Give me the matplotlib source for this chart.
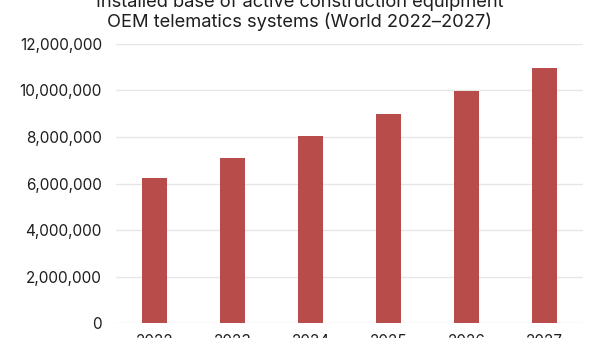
import matplotlib
matplotlib.use('Agg')
import matplotlib.pyplot as plt
from matplotlib.ticker import FuncFormatter

years = ['2022', '2023', '2024', '2025', '2026', '2027']
installed = [6240000, 7090000, 8040000, 8970000, 9970000, 10970000]

plt.rcParams['font.family'] = ['Inter', 'DejaVu Sans']

fig = plt.figure(figsize=(6, 3.38), dpi=100)
left, width = 0.193, 0.779
ax = fig.add_axes([left, 0.044, width, 0.826])

ax.bar(range(len(years)), installed, width=0.32, color='#b84c4a', zorder=2)
ax.set_xticks(range(len(years)))
ax.set_xticklabels(years)
ax.set_xlim(-0.5, 5.5)
ax.set_ylim(0, 12000000)
ax.set_yticks(range(0, 12000001, 2000000))
ax.yaxis.set_major_formatter(FuncFormatter(lambda v, p: '{:,.0f}'.format(v)))
ax.grid(axis='y', color='#e6e6e6', linewidth=1, zorder=0)
for s in ax.spines.values():
    s.set_visible(False)
ax.tick_params(length=0, labelsize=11, colors='#1e1e1e')
ax.tick_params(axis='y', pad=10)
ax.tick_params(axis='x', pad=8)

# title is centred on the figure, not the axes
ax.set_title('Installed base of active construction equipment\nOEM telematics systems (World 2022\u20132027)',
             fontsize=13.2, color='#1e1e1e', pad=12, linespacing=1.1,
             x=(0.5 - left) / width)

fig.savefig('out.png', dpi=100)
